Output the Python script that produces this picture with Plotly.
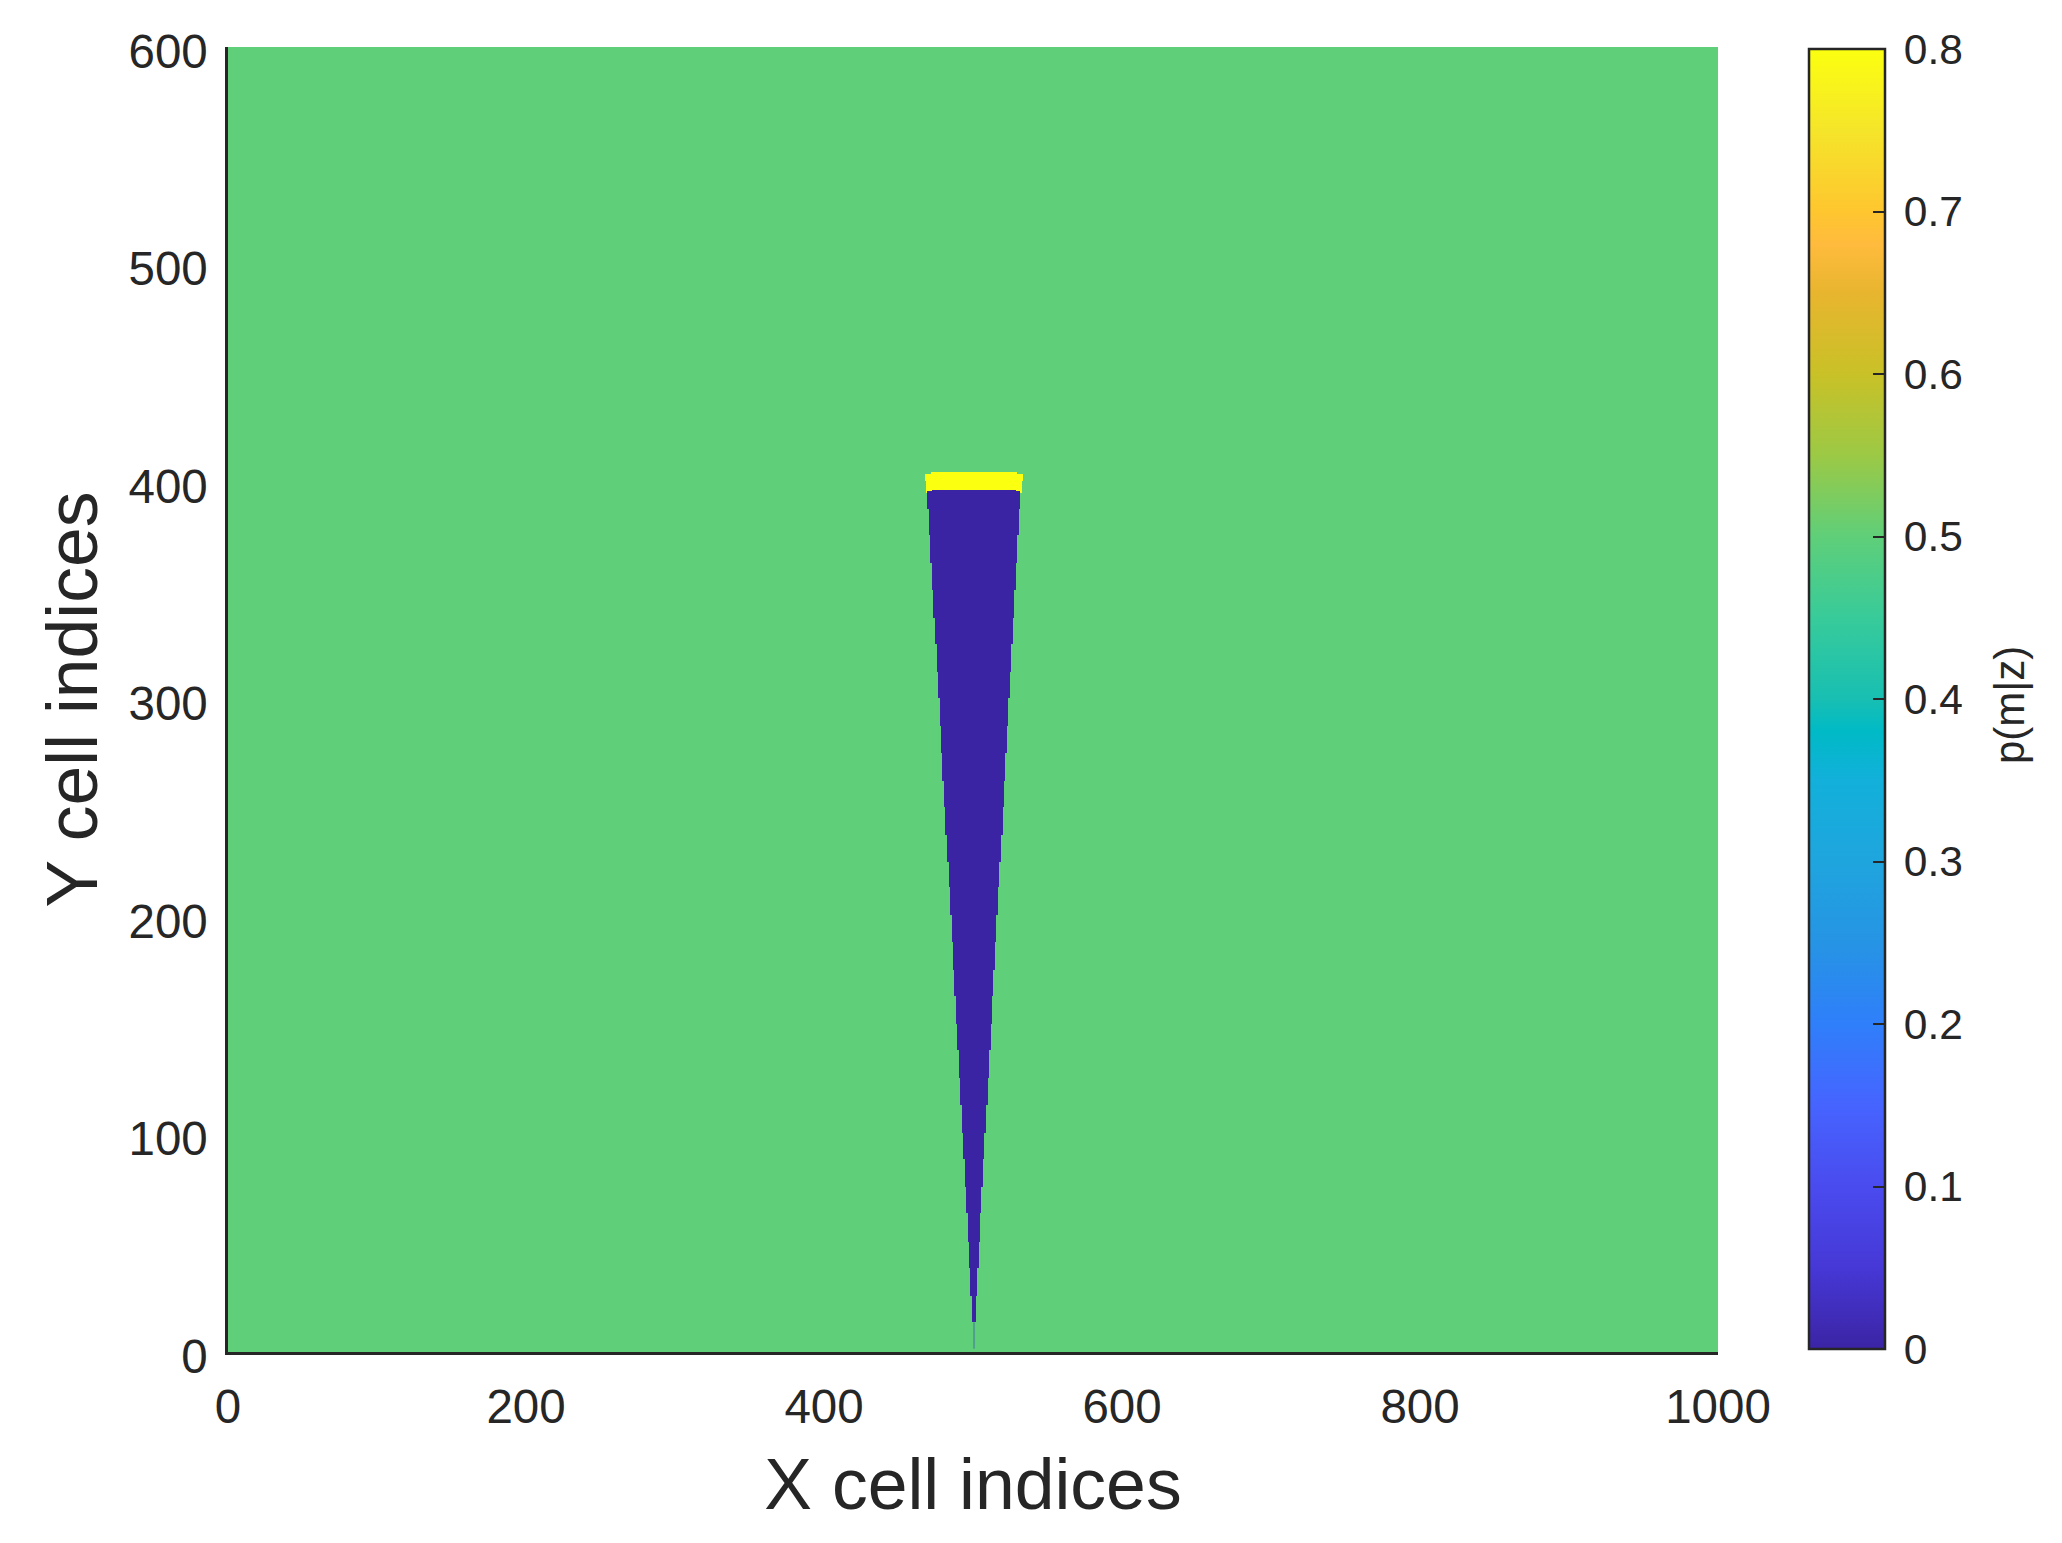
import numpy as np
import plotly.graph_objects as go

x_ticks = [0, 200, 400, 600, 800, 1000]
y_ticks = [0, 100, 200, 300, 400, 500, 600]
cbar_ticks = [0, 0.1, 0.2, 0.3, 0.4, 0.5, 0.6, 0.7, 0.8]
cbar_labels = ["0", "0.1", "0.2", "0.3", "0.4", "0.5", "0.6", "0.7", "0.8"]

background_p = 0.5
wedge_p = 0.0
cap_p = 0.8

# dark wedge: one entry per stepped band, from top to bottom
wedge_top = [396.0, 387.6, 375.6, 362.6, 350.3, 337.6, 325.5, 312.5,
             300.5, 287.8, 275.6, 262.5, 250.7, 237.7, 225.4, 213.6,
             200.9, 188.7, 175.6, 163.7, 150.8, 138.8, 126.1, 113.6,
             100.9, 88.7, 76.0, 63.8, 50.7, 38.6, 25.9]
wedge_bottom = [387.6, 375.6, 362.6, 350.3, 337.6, 325.5, 312.5, 300.5,
                287.8, 275.6, 262.5, 250.7, 237.7, 225.4, 213.6, 200.9,
                188.7, 175.6, 163.7, 150.8, 138.8, 126.1, 113.6, 100.9,
                88.7, 76.0, 63.8, 50.7, 38.6, 25.9, 13.6]
wedge_left = [469.1, 470.5, 471.4, 472.5, 473.4, 474.5, 475.6, 476.5,
              477.9, 478.5, 479.4, 480.5, 481.4, 482.6, 483.7, 484.6,
              485.7, 486.6, 487.3, 488.6, 489.3, 490.4, 491.5, 492.6,
              493.5, 494.6, 495.3, 496.6, 497.3, 498.2, 499.3]
wedge_right = [531.5, 530.9, 529.8, 528.9, 527.7, 526.6, 525.7, 524.8,
               523.5, 522.8, 521.5, 520.8, 519.9, 518.8, 517.7, 516.6,
               515.4, 514.8, 513.4, 512.8, 511.8, 510.7, 509.8, 508.7,
               507.6, 506.7, 505.6, 504.7, 504.0, 502.7, 501.8]

# yellow cap: three stepped bands plus the dark strip under it
cap_top = [404.6, 403.7, 400.4]
cap_bottom = [403.7, 400.4, 395.1]
cap_left = [471.8, 467.8, 468.5]
cap_right = [529.3, 533.3, 532.7]
strip_top = [396.3]
strip_bottom = [395.1]
strip_left = [472.3]
strip_right = [528.9]

# faint tip of the wedge
tip_x = [500.7, 500.7]
tip_y = [1.5, 13.6]

band_sets = [
    (cap_top, cap_bottom, cap_left, cap_right, cap_p),
    (strip_top, strip_bottom, strip_left, strip_right, wedge_p),
    (wedge_top, wedge_bottom, wedge_left, wedge_right, wedge_p),
]

x_edges = sorted({0.0, 1000.0, *wedge_left, *wedge_right, *cap_left, *cap_right, *strip_left, *strip_right})
y_edges = sorted({0.0, 600.0, *wedge_top, *wedge_bottom, *cap_top, *cap_bottom, *strip_top, *strip_bottom})
x_mid = (np.array(x_edges[:-1]) + np.array(x_edges[1:])) / 2
y_mid = (np.array(y_edges[:-1]) + np.array(y_edges[1:])) / 2
p_grid = np.full((len(y_mid), len(x_mid)), background_p)
for tops, bottoms, lefts, rights, value in band_sets:
    for t, b, l, r in zip(tops, bottoms, lefts, rights):
        rows = (y_mid < t) & (y_mid > b)
        cols = (x_mid > l) & (x_mid < r)
        p_grid[np.ix_(rows, cols)] = value

cmap_values = [0, 0.05, 0.1, 0.15, 0.2, 0.25, 0.3, 0.35, 0.38, 0.4, 0.45, 0.5, 0.55, 0.6, 0.65, 0.68, 0.7, 0.75, 0.8]
cmap_colors = ["#3B24A4", "#4638D6", "#4A4BEF", "#4664FF", "#2F7FFA", "#2694E4", "#1FA5DE",
               "#12B0DA", "#00BAC6", "#18BFB2", "#38CB9A", "#5FCF79", "#9CC945", "#C9C127",
               "#E8B52F", "#FFBB3D", "#FEC62F", "#F5E52A", "#FBFF10"]
colorscale = [[v / 0.8, c] for v, c in zip(cmap_values, cmap_colors)]

W, H = 2062, 1543
PLOT_L, PLOT_R, PLOT_T, PLOT_B = 228, 1718, 47, 1352
INK = "#262626"
FONT = "Liberation Sans, Arial, sans-serif"

fig = go.Figure()
fig.add_trace(go.Heatmap(
    x=x_edges, y=y_edges, z=p_grid, zmin=0, zmax=0.8, colorscale=colorscale, hoverinfo="skip",
    colorbar=dict(
        x=(1809 - PLOT_L) / (PLOT_R - PLOT_L), xanchor="left", xpad=0, thickness=76, thicknessmode="pixels",
        y=(PLOT_B - 49) / (PLOT_B - PLOT_T), yanchor="top", ypad=0,
        len=1300 / (PLOT_B - PLOT_T), lenmode="fraction",
        outlinecolor=INK, outlinewidth=2.5,
        tickmode="array", tickvals=cbar_ticks, ticktext=["\u2009" + s for s in cbar_labels],
        ticks="inside", ticklen=13, tickwidth=2, tickcolor=INK,
        tickfont=dict(family=FONT, size=42.5, color=INK),
    ),
))
fig.add_trace(go.Scatter(x=tip_x, y=tip_y, mode="lines", line=dict(color="#4FA08C", width=2),
                         showlegend=False, hoverinfo="skip"))

axis_common = dict(showgrid=False, zeroline=False, showline=True, linecolor=INK, linewidth=2.5,
                   ticks="", tickmode="array", tickfont=dict(family=FONT, size=47.5, color=INK),
                   automargin=False)
fig.update_xaxes(range=[0, 1000], tickvals=x_ticks, ticktext=[str(v) for v in x_ticks],
                 ticklabelstandoff=11,
                 title=dict(text="X cell indices", font=dict(family=FONT, size=71.5, color=INK), standoff=28),
                 **axis_common)
fig.update_yaxes(range=[0, 600], tickvals=y_ticks, ticktext=[str(v) for v in y_ticks],
                 ticklabelstandoff=8, ticklabelshift=4,
                 title=dict(text="Y cell indices", font=dict(family=FONT, size=71.5, color=INK), standoff=8),
                 **axis_common)
fig.add_annotation(text="p(m|z)", textangle=-90, showarrow=False, xref="paper", yref="paper",
                   x=(2010 - PLOT_L) / (PLOT_R - PLOT_L), y=(PLOT_B - 705) / (PLOT_B - PLOT_T),
                   xanchor="center", yanchor="middle",
                   font=dict(family=FONT, size=42, color=INK))
fig.update_layout(width=W, height=H, autosize=False, paper_bgcolor="white", plot_bgcolor="white",
                  margin=dict(l=PLOT_L, r=W - PLOT_R, t=PLOT_T, b=H - PLOT_B, pad=0), showlegend=False)
fig.write_html("out.html", post_script="document.body.style.margin='0';", config={"displayModeBar": False})
